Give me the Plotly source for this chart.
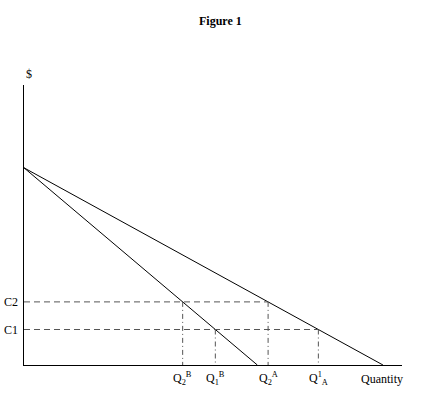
import plotly.graph_objects as go

# Data
price_intercept = 10.0          # common vertical intercept of both demand curves
qty_intercept_A = 100.0         # demand A hits quantity axis
qty_intercept_B = 65.0          # demand B hits quantity axis
cost_levels = [3.2, 1.8]        # C2, C1
cost_labels = ["C2", "C1"]
q_B = [44.2, 53.3]              # Q2^B, Q1^B
q_A = [68.0, 82.0]              # Q2^A, Q1^A
q_labels = ["Q<sub>2</sub><sup>B</sup>", "Q<sub>1</sub><sup>B</sup>",
            "Q<sub>2</sub><sup>A</sup>", "Q<sup>1</sup><sub>A</sub>"]
q_positions = [q_B[0], q_B[1], q_A[0], q_A[1]]
q_levels = [cost_levels[0], cost_levels[1], cost_levels[0], cost_levels[1]]

x_max = 105.3
y_max = 14.2

FONT = "Liberation Serif"
FS = 12
fig = go.Figure()

# demand curves
fig.add_trace(go.Scatter(x=[0, qty_intercept_A], y=[price_intercept, 0], mode="lines",
                         line=dict(color="black", width=1), hoverinfo="skip"))
fig.add_trace(go.Scatter(x=[0, qty_intercept_B], y=[price_intercept, 0], mode="lines",
                         line=dict(color="black", width=1), hoverinfo="skip"))

# horizontal dashed cost lines
for c, qa in zip(cost_levels, q_A):
    fig.add_trace(go.Scatter(x=[0, qa], y=[c, c], mode="lines",
                             line=dict(color="#555555", width=1, dash="6px,4px"), hoverinfo="skip"))

# vertical dash-dot lines
for q, lv in zip(q_positions, q_levels):
    fig.add_trace(go.Scatter(x=[q, q], y=[lv, 0], mode="lines",
                             line=dict(color="#555555", width=1, dash="5px,3px,1px,3px"), hoverinfo="skip"))

ann = []
for c, lab in zip(cost_levels, cost_labels):
    ann.append(dict(x=0, y=c, xref="x", yref="y", text=lab, showarrow=False,
                    xanchor="right", xshift=-4, font=dict(family=FONT, size=FS, color="black")))
for q, lab in zip(q_positions, q_labels):
    ann.append(dict(x=q, y=0, xref="x", yref="y", text=lab, showarrow=False,
                    yanchor="top", yshift=-3, font=dict(family=FONT, size=FS, color="black")))
ann.append(dict(x=1.008, y=0, xref="paper", yref="paper", text="Quantity", showarrow=False,
                yanchor="top", yshift=-5, font=dict(family=FONT, size=FS, color="black")))
ann.append(dict(x=0, y=1, xref="paper", yref="paper", text="$", showarrow=False,
                yanchor="bottom", yshift=2, font=dict(family=FONT, size=FS, color="black")))
ann.append(dict(x=0.52, y=1, xref="paper", yref="paper", text="<b>Figure 1</b>", showarrow=False,
                yanchor="bottom", yshift=55, font=dict(family=FONT, size=FS, color="black")))

fig.update_layout(
    width=433, height=396,
    margin=dict(l=24, r=31, t=85, b=31),
    paper_bgcolor="white", plot_bgcolor="white",
    showlegend=False,
    annotations=ann,
    xaxis=dict(range=[0, x_max], showgrid=False, zeroline=False, showline=True,
               linecolor="black", linewidth=1, showticklabels=False, ticks=""),
    yaxis=dict(range=[0, y_max], showgrid=False, zeroline=False, showline=True,
               linecolor="black", linewidth=1, showticklabels=False, ticks=""),
)
fig.write_html("out.html")
